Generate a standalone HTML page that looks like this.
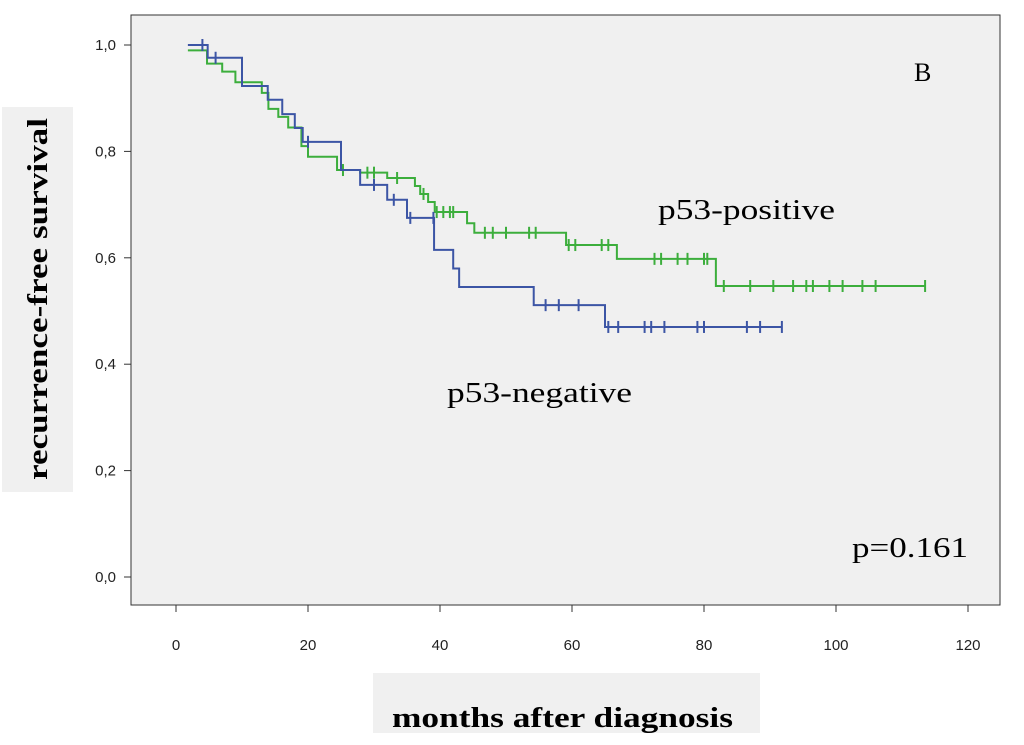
<!DOCTYPE html>
<html><head><meta charset="utf-8"><style>
body{margin:0;background:#fff;width:1024px;height:745px;overflow:hidden;font-family:"Liberation Serif",serif}
</style></head><body>
<svg width="1024" height="745" style="position:absolute;left:0;top:0">
<rect x="2" y="107" width="71" height="385" fill="#f0f0f0"/>
<rect x="373" y="673" width="387" height="60" fill="#f0f0f0"/>
<rect x="131" y="15" width="869" height="590" fill="#f0f0f0" stroke="#333" stroke-width="1"/>
<g id="axes"></g>
<g id="series"></g>
<text x="914" y="81" font-size="26" textLength="23">B</text>
<text x="658" y="219" font-size="28" textLength="177" lengthAdjust="spacingAndGlyphs">p53-positive</text>
<text x="447" y="402" font-size="28" textLength="185" lengthAdjust="spacingAndGlyphs">p53-negative</text>
<text x="852" y="557" font-size="28" textLength="116" lengthAdjust="spacingAndGlyphs">p=0.161</text>
<text transform="translate(47,299) rotate(-90)" text-anchor="middle" font-size="28" font-weight="bold" textLength="362" lengthAdjust="spacingAndGlyphs">recurrence-free survival</text>
<text x="392" y="727" font-size="29" font-weight="bold" textLength="341" lengthAdjust="spacingAndGlyphs">months after diagnosis</text>
</svg>
<script>
const xTicks=[0,20,40,60,80,100,120];
const yTicks=[0,0.2,0.4,0.6,0.8,1.0];
const yTickLabels=["0,0","0,2","0,4","0,6","0,8","1,0"];
const negStart=1.8, negEnd=91.8;
const negTimes=[4.8,10,13.9,16.1,18,19.2,25,27.9,32,35,39.1,42,42.9,54.2,65];
const negSurv=[0.976,0.923,0.897,0.87,0.844,0.818,0.765,0.737,0.709,0.675,0.615,0.58,0.545,0.511,0.47];
const negCensor=[4,6,20,30,33,35.5,39,56,58,61,65.5,67,71,72,74,79,80,86.5,88.5,91.8];
const posStart=1.8, posEnd=113.5, posInit=0.99;
const posTimes=[4.7,7,9,13,14,15.5,17,19,20,24.4,27.9,32,36.2,37,38.2,39.2,44.1,45.2,59.1,66.8,81.8];
const posSurv=[0.965,0.95,0.93,0.91,0.88,0.865,0.845,0.81,0.79,0.765,0.76,0.75,0.735,0.72,0.705,0.686,0.665,0.647,0.624,0.598,0.547];
const posCensor=[25.3,29,30,33.5,37.5,39.5,40.5,41.5,42,46.8,48,50,53.5,54.5,59.5,60.5,64.5,65.5,72.5,73.5,76,77.5,80,80.5,83,87,90.5,93.5,95.5,96.5,99,101,104,106,113.5];
const X=m=>176+m*6.6, Y=s=>577-s*532;
const NS="http://www.w3.org/2000/svg";
const axes=document.getElementById('axes'), ser=document.getElementById('series');
function mk(tag,attrs,parent){const e=document.createElementNS(NS,tag);for(const k in attrs)e.setAttribute(k,attrs[k]);parent.appendChild(e);return e;}
xTicks.forEach(t=>{
 const l=mk('line',{x1:X(t),x2:X(t),y1:605,y2:612,stroke:'#333'},axes);
 
 
 const tx=mk('text',{x:X(t),y:650,'text-anchor':'middle','font-family':'Liberation Sans,sans-serif','font-size':15,fill:'#222'},axes);
 tx.textContent=t;
 
 
});
yTicks.forEach((t,i)=>{
 const l=mk('line',{x1:124,x2:131,y1:Y(t),y2:Y(t),stroke:'#333'},axes);
 
 
 const tx=mk('text',{x:116,y:Y(t)+5,'text-anchor':'end','font-family':'Liberation Sans,sans-serif','font-size':15,fill:'#222'},axes);
 tx.textContent=yTickLabels[i];
 
 
});
function drawCurve(start,init,times,surv,end,censor,color,name){
 let d='M'+X(start)+','+Y(init);
 times.forEach((t,i)=>{d+=' H'+X(t)+' V'+Y(surv[i]);});
 d+=' H'+X(end);
 const p=mk('path',{d:d,fill:'none',stroke:color,'stroke-width':2},ser);
 
 
 censor.forEach(c=>{
  let s=init;times.forEach((t,i)=>{if(t<=c)s=surv[i];});
  const m=mk('line',{x1:X(c),x2:X(c),y1:Y(s)-6,y2:Y(s)+6,stroke:color,'stroke-width':2},ser);
  
  
 });
}
drawCurve(posStart,posInit,posTimes,posSurv,posEnd,posCensor,'#3cae3c','p53-positive');
drawCurve(negStart,1.0,negTimes,negSurv,negEnd,negCensor,'#3c55a5','p53-negative');
</script>
</body></html>
